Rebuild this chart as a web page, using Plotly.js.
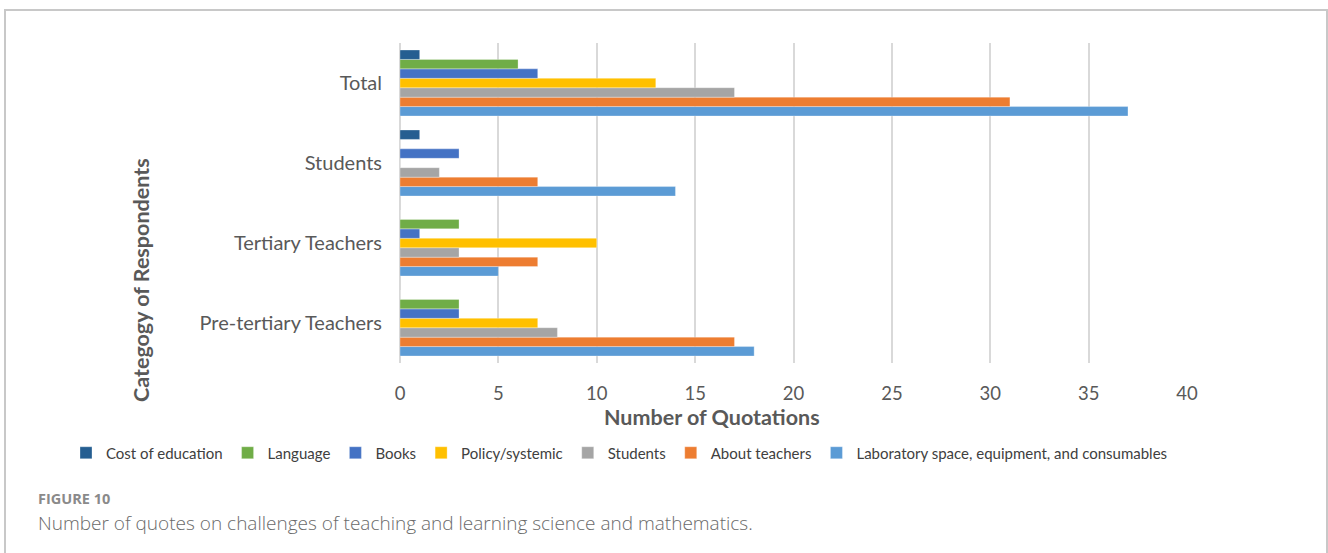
<!DOCTYPE html>
<html>
<head>
<meta charset="utf-8">
<script src="https://cdn.plot.ly/plotly-3.0.1.min.js"></script>
<style>
  html, body { margin: 0; padding: 0; background: #fff; }
  #wrap { position: relative; width: 1328px; height: 553px; overflow: hidden; }
  #chart { width: 1328px; height: 553px; }
  #frame { position: absolute; left: 4px; top: 9px; width: 1320px; height: 600px;
           border: 2px solid #c8c8c8; border-bottom: none; pointer-events: none; }
</style>
</head>
<body>
<div id="wrap">
  <div id="chart"></div>
  <div id="frame"></div>
</div>
<script>
// Categories (bottom to top)
const categories = ["Pre-tertiary Teachers", "Tertiary Teachers", "Students", "Total"];

// Series names (legend order) and values per category (same order as categories)
const seriesNames = ["Cost of education", "Language", "Books", "Policy/systemic", "Students", "About teachers", "Laboratory space, equipment, and consumables"];
const costOfEducation = [0, 0, 1, 1];
const language        = [3, 3, 0, 6];
const books           = [3, 1, 3, 7];
const policySystemic  = [7, 10, 0, 13];
const studentsSeries  = [8, 3, 2, 17];
const aboutTeachers   = [17, 7, 7, 31];
const laboratory      = [18, 5, 14, 37];

const seriesValues = [costOfEducation, language, books, policySystemic, studentsSeries, aboutTeachers, laboratory];
const seriesColors = ["#255E91", "#70AD47", "#4472C4", "#FFC000", "#A5A5A5", "#ED7D31", "#5B9BD5"];

const xTicks = [0, 5, 10, 15, 20, 25, 30, 35, 40];

const font = "Lato, 'Open Sans', sans-serif";

// Add traces in reverse so the first series sits at the top of each group
const traces = [];
for (let i = seriesNames.length - 1; i >= 0; i--) {
  traces.push({
    type: "bar",
    orientation: "h",
    name: seriesNames[i],
    y: categories,
    x: seriesValues[i],
    marker: { color: seriesColors[i], line: { color: "rgba(255,255,255,0.6)", width: 0.5 } },
    hoverinfo: "x+name"
  });
}

// plot area in pixels: x 400..1187, y 43..363
const px = v => (v - 400) / 787;
const py = v => (363 - v) / 320;

const layout = {
  width: 1328, height: 553,
  margin: { l: 400, r: 141, t: 43, b: 190 },
  paper_bgcolor: "#fff", plot_bgcolor: "#fff",
  barmode: "group",
  bargap: 0.175,
  bargroupgap: 0,
  font: { family: font, color: "#595959", size: 17 },
  showlegend: true,
  legend: {
    orientation: "h", traceorder: "reversed",
    x: px(66), xref: "paper", xanchor: "left",
    y: py(453), yref: "paper", yanchor: "middle",
    font: { family: font, size: 15, color: "#404040" },
    itemwidth: 30, tracegroupgap: 0
  },
  xaxis: {
    range: [0, 40], tickvals: xTicks, ticktext: xTicks.map(String),
    showgrid: true, gridcolor: "#d9d9d9", gridwidth: 2,
    zeroline: true, zerolinecolor: "#d9d9d9", zerolinewidth: 2,
    showline: false, ticks: "",
    tickfont: { family: font, size: 18.5, color: "#595959" },
    ticklabelstandoff: 17,
    fixedrange: true
  },
  yaxis: {
    type: "category", categoryorder: "array", categoryarray: categories,
    range: [-0.5, 3.5],
    showgrid: false, zeroline: false, showline: false, ticks: "",
    tickfont: { family: font, size: 20, color: "#595959" },
    ticklabelstandoff: 17,
    fixedrange: true
  },
  annotations: [
    { text: "<b>Number of Quotations</b>", xref: "paper", yref: "paper", x: px(712), y: py(417),
      xanchor: "center", yanchor: "middle", showarrow: false,
      font: { family: font, size: 21.5, color: "#595959" } },
    { text: "<b>Categogy of Respondents</b>", xref: "paper", yref: "paper", x: px(141), y: py(280),
      xanchor: "center", yanchor: "middle", showarrow: false, textangle: -90,
      font: { family: font, size: 21.5, color: "#595959" } },
    { text: "<b>FIGURE 10</b>", xref: "paper", yref: "paper", x: px(36), y: py(498),
      xanchor: "left", yanchor: "middle", showarrow: false,
      font: { family: "'Open Sans', sans-serif", size: 14.5, color: "#8a8a8a" } },
    { text: "Number of quotes on challenges of teaching and learning science and mathematics.", xref: "paper", yref: "paper",
      x: px(36), y: py(523),
      xanchor: "left", yanchor: "middle", showarrow: false,
      font: { family: "'Open Sans', sans-serif", size: 19, color: "#6a6a6a", weight: 300 } }
  ]
};

Plotly.newPlot("chart", traces, layout, { displayModeBar: false, staticPlot: true });
</script>
</body>
</html>
